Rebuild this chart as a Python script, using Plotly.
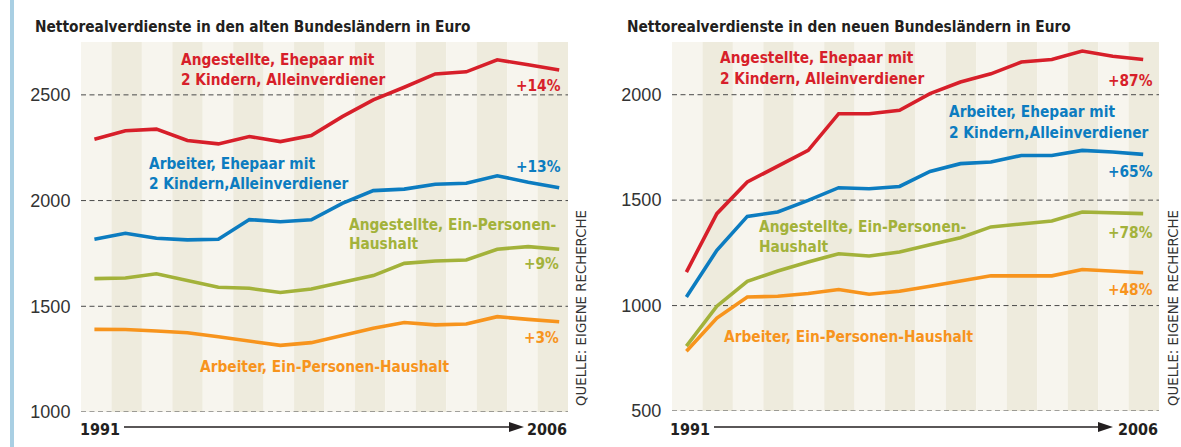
import plotly.graph_objects as go

W, H = 1181, 447

years = list(range(1991, 2007))

# Alte Bundesländer (Euro)
west_ang_fam = [2290, 2330, 2338, 2284, 2268, 2303, 2279, 2308, 2397, 2476, 2536, 2599, 2609, 2666, 2642, 2618]
west_arb_fam = [1817, 1845, 1822, 1814, 1817, 1910, 1900, 1909, 1987, 2047, 2054, 2077, 2082, 2117, 2087, 2061]
west_ang_single = [1631, 1634, 1654, 1621, 1590, 1585, 1565, 1582, 1615, 1645, 1703, 1714, 1719, 1770, 1782, 1770]
west_arb_single = [1391, 1390, 1383, 1375, 1356, 1337, 1315, 1328, 1361, 1396, 1423, 1412, 1416, 1451, 1438, 1427]

# Neue Bundesländer (Euro)
east_ang_fam = [1159, 1436, 1586, 1662, 1736, 1910, 1910, 1926, 2005, 2060, 2099, 2155, 2167, 2207, 2182, 2167]
east_arb_fam = [1041, 1262, 1423, 1444, 1499, 1559, 1554, 1565, 1636, 1673, 1681, 1712, 1712, 1736, 1728, 1717]
east_ang_single = [808, 997, 1115, 1164, 1207, 1246, 1235, 1254, 1289, 1322, 1373, 1389, 1401, 1444, 1442, 1436]
east_arb_single = [783, 941, 1041, 1044, 1057, 1076, 1054, 1068, 1092, 1115, 1141, 1141, 1141, 1171, 1164, 1156]

west_ticks = [1000, 1500, 2000, 2500]
east_ticks = [500, 1000, 1500, 2000]

titles = ["Nettorealverdienste in den alten Bundesländern in Euro",
          "Nettorealverdienste in den neuen Bundesländern in Euro"]
source = "QUELLE: EIGENE RECHERCHE"

lbl_ang_fam = ["Angestellte, Ehepaar mit", "2 Kindern, Alleinverdiener"]
lbl_arb_fam = ["Arbeiter, Ehepaar mit", "2 Kindern,Alleinverdiener"]
lbl_ang_single = ["Angestellte, Ein-Personen-", "Haushalt"]
lbl_arb_single = ["Arbeiter, Ein-Personen-Haushalt"]

west_pct = ["+14%", "+13%", "+9%", "+3%"]
east_pct = ["+87%", "+65%", "+78%", "+48%"]

RED, BLUE, GREEN, ORANGE = "#d71f2a", "#0c7cc0", "#a3b23a", "#f7941d"
DARK = "#231f20"
LIGHT_BG, DARK_BG = "#f7f5ee", "#eeebdd"
COND = "Liberation Sans Narrow, DejaVu Sans Condensed, Arial Narrow, sans-serif"
REG = "Liberation Sans, Arial, sans-serif"
LBL = 15.3


def X(px):
    return px / W


def Y(py):
    return 1 - py / H


fig = go.Figure()

series_w = [(west_ang_fam, RED), (west_arb_fam, BLUE), (west_ang_single, GREEN), (west_arb_single, ORANGE)]
series_e = [(east_ang_fam, RED), (east_arb_fam, BLUE), (east_ang_single, GREEN), (east_arb_single, ORANGE)]

for vals, col in series_w:
    fig.add_trace(go.Scatter(x=years, y=vals, mode="lines", line=dict(color=col, width=3.6),
                             xaxis="x", yaxis="y", showlegend=False, hoverinfo="skip"))
for vals, col in series_e:
    fig.add_trace(go.Scatter(x=years, y=vals, mode="lines", line=dict(color=col, width=3.6),
                             xaxis="x2", yaxis="y2", showlegend=False, hoverinfo="skip"))

shapes = []
# left light-blue bar
shapes.append(dict(type="rect", xref="paper", yref="paper", x0=X(10), x1=X(14), y0=0, y1=1,
                   fillcolor="#a9cfe3", line=dict(width=0), layer="below"))

for xr, yr, ticks in [("x", "y", west_ticks), ("x2", "y2", east_ticks)]:
    n = len(years)
    for i in range(n):
        shapes.append(dict(type="rect", xref=xr + " domain", yref=yr + " domain",
                           x0=i / n, x1=(i + 1) / n, y0=0, y1=1,
                           fillcolor=LIGHT_BG if i % 2 == 0 else DARK_BG,
                           line=dict(width=0), layer="below"))
    for t in ticks:
        shapes.append(dict(type="line", xref=xr + " domain", yref=yr, x0=0, x1=1, y0=t, y1=t,
                           line=dict(color="#4a4a4a", width=1, dash="5px,3.5px"), layer="below"))


def arrow(x0, x1, y):
    head = 15
    half = 5
    shapes.append(dict(type="line", xref="paper", yref="paper", x0=X(x0), x1=X(x1 - head + 2),
                       y0=Y(y), y1=Y(y), line=dict(color=DARK, width=1.3)))
    shapes.append(dict(type="path", xref="paper", yref="paper",
                       path=f"M {X(x1)} {Y(y)} L {X(x1 - head)} {Y(y - half)} L {X(x1 - head)} {Y(y + half)} Z",
                       fillcolor=DARK, line=dict(width=0)))


arrow(124, 524, 427)
arrow(714, 1113, 427)

ann = []


def text(t, px, py, color, size=LBL, anchor="left", bold=True, family=COND, angle=0):
    ann.append(dict(text=f"<b>{t}</b>" if bold else t, x=X(px), y=Y(py), xref="paper", yref="paper",
                    xanchor=anchor, yanchor="middle", showarrow=False, textangle=angle,
                    font=dict(family=family, size=size, color=color)))


# titles
text(titles[0], 33, 27, DARK, size=15.3)
text(titles[1], 625, 27, DARK, size=15.3)

# left panel labels
text(lbl_ang_fam[0], 179, 60, RED)
text(lbl_ang_fam[1], 179, 80, RED)
text(west_pct[0], 563, 86, RED, anchor="right")
text(lbl_arb_fam[0], 147, 164, BLUE)
text(lbl_arb_fam[1], 147, 184, BLUE)
text(west_pct[1], 563, 167, BLUE, anchor="right")
text(lbl_ang_single[0], 347, 225, GREEN)
text(lbl_ang_single[1], 347, 244, GREEN)
text(west_pct[2], 561, 264, GREEN, anchor="right")
text(lbl_arb_single[0], 198, 367, ORANGE)
text(west_pct[3], 561, 338, ORANGE, anchor="right")

# right panel labels
text(lbl_ang_fam[0], 718, 58, RED)
text(lbl_ang_fam[1], 718, 79, RED)
text(east_pct[0], 1155, 81, RED, anchor="right")
text(lbl_arb_fam[0], 947, 112, BLUE)
text(lbl_arb_fam[1], 947, 133, BLUE)
text(east_pct[1], 1155, 172, BLUE, anchor="right")
text(lbl_ang_single[0], 757, 227, GREEN)
text(lbl_ang_single[1], 757, 247, GREEN)
text(east_pct[2], 1155, 233, GREEN, anchor="right")
text(lbl_arb_single[0], 722, 337, ORANGE)
text(east_pct[3], 1155, 290, ORANGE, anchor="right")

# year labels
text(str(years[0]), 78, 429, DARK, size=16)
text(str(years[-1]), 569, 429, DARK, size=16, anchor="right")
text(str(years[0]), 668, 429, DARK, size=16)
text(str(years[-1]), 1160, 429, DARK, size=16, anchor="right")

# source
text(source, 580, 308, "#333333", size=14.8, bold=False, anchor="center", angle=-90)
text(source, 1172, 308, "#333333", size=14.8, bold=False, anchor="center", angle=-90)

tickfont = dict(family=REG, size=18, color="#333333")
fig.update_layout(
    width=W, height=H, template="none",
    margin=dict(l=0, r=0, t=0, b=0),
    paper_bgcolor="white", plot_bgcolor="white",
    showlegend=False,
    xaxis=dict(domain=[X(81), X(568)], range=[1990.567, 2006.284], visible=False),
    xaxis2=dict(domain=[X(672), X(1159)], range=[1990.527, 2006.52], visible=False),
    yaxis=dict(domain=[Y(412), Y(42)], range=[1000, 2750], anchor="x",
               tickvals=west_ticks, ticktext=[str(t) for t in west_ticks],
               showgrid=False, zeroline=False, showline=False, ticks="outside", ticklen=6,
               tickcolor="rgba(0,0,0,0)", tickfont=tickfont, automargin=False),
    yaxis2=dict(domain=[Y(411), Y(42)], range=[500, 2250], anchor="x2",
                tickvals=east_ticks, ticktext=[str(t) for t in east_ticks],
                showgrid=False, zeroline=False, showline=False, ticks="outside", ticklen=6,
                tickcolor="rgba(0,0,0,0)", tickfont=tickfont, automargin=False),
    shapes=shapes,
    annotations=ann,
)

fig.write_html("out.html", config={"displayModeBar": False},
               post_script="document.body.style.margin='0';document.body.style.overflow='hidden';")
